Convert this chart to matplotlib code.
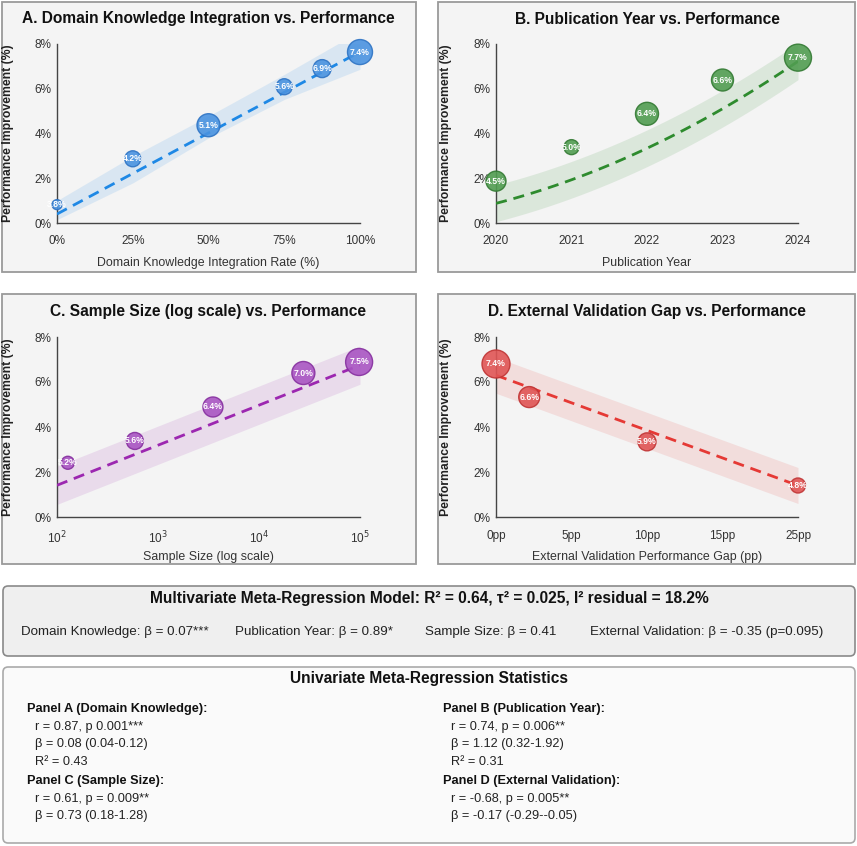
import matplotlib
matplotlib.use("Agg")
import matplotlib.pyplot as plt
import numpy as np
from matplotlib.patches import FancyBboxPatch, Rectangle

plt.rcParams['font.family'] = ['Liberation Sans', 'DejaVu Sans']

W, H = 857, 846

# ---------------- data ----------------
# Panel A
a_x = [0, 25, 50, 75, 87.5, 100]
a_y = [0.82, 2.87, 4.37, 6.09, 6.90, 7.64]
a_lbl = ["3.8%", "4.2%", "5.1%", "5.6%", "6.9%", "7.4%"]
a_d = [10, 16, 23, 16, 18, 25]
a_trend_x = [0, 100]
a_trend_y = [0.40, 7.65]
a_band_x = [0, 25, 50, 75, 100]
a_band_lo = [0.15, 1.79, 3.80, 5.52, 6.87]
a_band_hi = [1.00, 2.99, 4.78, 6.64, 8.58]
a_ticks = [0, 25, 50, 75, 100]
a_ticklbl = ["0%", "25%", "50%", "75%", "100%"]

# Panel B
b_x = [2020, 2021, 2022, 2023, 2024]
b_y = [1.87, 3.39, 4.88, 6.39, 7.39]
b_lbl = ["4.5%", "5.0%", "6.4%", "6.6%", "7.7%"]
b_d = [20, 15, 23, 22, 27]
b_trend_x = [2020, 2021, 2022, 2023, 2024]
b_trend_y = [0.87, 1.94, 3.36, 5.07, 7.24]
b_band_half = 0.82

# Panel C
c_x = [128, 590, 3500, 27500, 98000]
c_y = [2.41, 3.38, 4.89, 6.40, 6.89]
c_lbl = ["5.2%", "5.6%", "6.4%", "7.0%", "7.5%"]
c_d = [13, 17, 20, 23, 27]
c_trend_x = [100, 100000]
c_trend_y = [1.41, 6.75]
c_band_half = 0.85
c_ticks = [100, 1000, 10000, 100000]
c_ticklbl = ["10$^2$", "10$^3$", "10$^4$", "10$^5$"]

# Panel D
d_x = [0, 2.2, 10, 20]
d_y = [6.80, 5.33, 3.34, 1.40]
d_lbl = ["7.4%", "6.6%", "5.9%", "4.8%"]
d_d = [28, 21, 18, 15]
d_trend_x = [0, 20]
d_trend_y = [6.30, 1.40]
d_band_half = 0.80
d_ticks = [0, 5, 10, 15, 20]
d_ticklbl = ["0pp", "5pp", "10pp", "15pp", "25pp"]

y_ticks = [0, 2, 4, 6, 8]
y_ticklbl = ["0%", "2%", "4%", "6%", "8%"]

titles = ["A. Domain Knowledge Integration vs. Performance",
          "B. Publication Year vs. Performance",
          "C. Sample Size (log scale) vs. Performance",
          "D. External Validation Gap vs. Performance"]
xlabels = ["Domain Knowledge Integration Rate (%)", "Publication Year",
           "Sample Size (log scale)", "External Validation Performance Gap (pp)"]
ylabel = "Performance Improvement (%)"

multi_title = "Multivariate Meta-Regression Model: R² = 0.64, τ² = 0.025, I² residual = 18.2%"
multi_items = ["Domain Knowledge: β = 0.07***", "Publication Year: β = 0.89*",
               "Sample Size: β = 0.41", "External Validation: β = -0.35 (p=0.095)"]

uni_title = "Univariate Meta-Regression Statistics"
uni_blocks = [
    ("Panel A (Domain Knowledge):", ["r = 0.87, p 0.001***", "β = 0.08 (0.04-0.12)", "R² = 0.43"]),
    ("Panel B (Publication Year):", ["r = 0.74, p = 0.006**", "β = 1.12 (0.32-1.92)", "R² = 0.31"]),
    ("Panel C (Sample Size):", ["r = 0.61, p = 0.009**", "β = 0.73 (0.18-1.28)"]),
    ("Panel D (External Validation):", ["r = -0.68, p = 0.005**", "β = -0.17 (-0.29--0.05)"]),
]

colors = {
    'A': dict(fill='#4a93e0', edge='#2f74c4', line='#1e88e5'),
    'B': dict(fill='#519d51', edge='#337a33', line='#2e8b2e'),
    'C': dict(fill='#a955c2', edge='#86309f', line='#9c27b0'),
    'D': dict(fill='#e05555', edge='#c03535', line='#e53935'),
}

# ---------------- figure ----------------
fig = plt.figure(figsize=(W / 100, H / 100), dpi=100)
fig.patch.set_facecolor('white')

def fx(x):
    return x / W

def fy(y):
    return 1 - y / H

def add_box(x0, y0, x1, y1, face, edge, lw=1.2, rounded=False):
    if rounded:
        p = FancyBboxPatch((fx(x0), fy(y1)), fx(x1) - fx(x0), fy(y0) - fy(y1),
                           boxstyle="round,pad=0,rounding_size=0.006",
                           transform=fig.transFigure, facecolor=face, edgecolor=edge,
                           linewidth=lw, zorder=-5)
    else:
        p = Rectangle((fx(x0), fy(y1)), fx(x1) - fx(x0), fy(y0) - fy(y1),
                      transform=fig.transFigure, facecolor=face, edgecolor=edge,
                      linewidth=lw, zorder=-5)
    fig.patches.append(p)

# panel boxes
panel_boxes = [(2, 2, 416, 272), (438, 2, 855, 272), (2, 294, 416, 564), (438, 294, 855, 564)]
for b in panel_boxes:
    add_box(*b, face='#f4f4f4', edge='#9a9a9a', lw=1.3)

# axes rectangles in px: (left, top, right, bottom)
axes_px = [(57, 44, 360, 223), (496, 44, 798, 223), (57, 337, 360, 517), (496, 337, 798, 517)]
title_pos = [(208, 19), (647, 19), (208, 311), (647, 311)]

axs = []
for (l, t, r, b) in axes_px:
    ax = fig.add_axes([fx(l), fy(b), fx(r) - fx(l), fy(t) - fy(b)])
    ax.set_zorder(2)
    ax.set_facecolor('none')
    for s in ['top', 'right']:
        ax.spines[s].set_visible(False)
    for s in ['left', 'bottom']:
        ax.spines[s].set_color('#444444')
        ax.spines[s].set_linewidth(1.0)
    ax.set_ylim(0, 8)
    ax.set_yticks(y_ticks)
    ax.set_yticklabels(y_ticklbl)
    ax.tick_params(axis='both', length=0, labelsize=8.5, colors='#333333')
    ax.tick_params(axis='y', pad=4)
    ax.tick_params(axis='x', pad=9)
    ax.set_ylabel(ylabel, fontsize=8.8, fontweight='bold', color='#222222')
    axs.append(ax)

DASH = (0, (4.0, 2.5))

def scatter_panel(ax, x, y, d, lbl, c):
    s = [(di * 0.72) ** 2 for di in d]
    ax.scatter(x, y, s=s, c=c['fill'], edgecolors=c['edge'], linewidths=1.0,
               alpha=0.9, zorder=4, clip_on=False)
    for xi, yi, t in zip(x, y, lbl):
        ax.text(xi, yi, t, color='white', fontsize=6.2, fontweight='bold',
                ha='center', va='center', zorder=5, clip_on=False)

# Panel A
ax = axs[0]
c = colors['A']
ax.set_xlim(0, 100)
ax.fill_between(a_band_x, a_band_lo, a_band_hi, color=c['line'], alpha=0.12, lw=0, zorder=1)
ax.plot(a_trend_x, a_trend_y, ls=DASH, color=c['line'], lw=2.0, zorder=3)
scatter_panel(ax, a_x, a_y, a_d, a_lbl, c)
ax.set_xticks(a_ticks)
ax.set_xticklabels(a_ticklbl)

# Panel B
ax = axs[1]
c = colors['B']
ax.set_xlim(2020, 2024)
coef = np.polyfit(b_trend_x, b_trend_y, 2)
xs = np.linspace(2020, 2024, 100)
ys = np.polyval(coef, xs)
ax.fill_between(xs, ys - b_band_half, ys + b_band_half, color=c['line'], alpha=0.12, lw=0, zorder=1)
ax.plot(xs, ys, ls=DASH, color=c['line'], lw=2.0, zorder=3)
scatter_panel(ax, b_x, b_y, b_d, b_lbl, c)
ax.set_xticks(b_x)
ax.set_xticklabels([str(v) for v in b_x])

# Panel C
ax = axs[2]
c = colors['C']
ax.set_xscale('log')
ax.set_xlim(100, 100000)
ax.fill_between(c_trend_x, np.array(c_trend_y) - c_band_half, np.array(c_trend_y) + c_band_half,
                color=c['line'], alpha=0.12, lw=0, zorder=1)
ax.plot(c_trend_x, c_trend_y, ls=DASH, color=c['line'], lw=2.0, zorder=3)
scatter_panel(ax, c_x, c_y, c_d, c_lbl, c)
ax.set_xticks(c_ticks)
ax.set_xticklabels(c_ticklbl)
ax.minorticks_off()

# Panel D
ax = axs[3]
c = colors['D']
ax.set_xlim(0, 20)
ax.fill_between(d_trend_x, np.array(d_trend_y) - d_band_half, np.array(d_trend_y) + d_band_half,
                color=c['line'], alpha=0.12, lw=0, zorder=1)
ax.plot(d_trend_x, d_trend_y, ls=DASH, color=c['line'], lw=2.0, zorder=3)
scatter_panel(ax, d_x, d_y, d_d, d_lbl, c)
ax.set_xticks(d_ticks)
ax.set_xticklabels(d_ticklbl)

for i, ax in enumerate(axs):
    l, t, r, b = axes_px[i]
    ax.set_xlabel(xlabels[i], fontsize=8.9, color='#333333')
    ax.xaxis.set_label_coords(0.5, -(34) / (b - t), transform=ax.transAxes)
    lx = 14 if i % 2 == 0 else 452
    ax.yaxis.set_label_coords((lx - l) / (r - l), 0.5)
    tx, ty = title_pos[i]
    fig.text(fx(tx), fy(ty), titles[i], ha='center', va='center', fontsize=11.2,
             fontweight='bold', color='#111111')

# ---------------- multivariate box ----------------
fam = ['Liberation Sans', 'DejaVu Sans']
add_box(3, 586, 855, 656, face='#efefef', edge='#8a8a8a', lw=1.2, rounded=True)
fig.text(fx(429), fy(599), multi_title, ha='center', va='center', fontsize=11.2,
         fontweight='bold', family=fam, color='#111111')
item_x = [21, 235, 425, 590]
for xi, t in zip(item_x, multi_items):
    fig.text(fx(xi), fy(632), t, ha='left', va='center', fontsize=9.6, family=fam, color='#222222')

# ---------------- univariate box ----------------
add_box(3, 667, 855, 843, face='#fafafa', edge='#aaaaaa', lw=1.2, rounded=True)
fig.text(fx(429), fy(678), uni_title, ha='center', va='center', fontsize=11.2,
         fontweight='bold', family=fam, color='#111111')
block_pos = [(27, 709), (443, 709), (27, 781), (443, 781)]
for (hx, hy), (head, lines) in zip(block_pos, uni_blocks):
    fig.text(fx(hx), fy(hy), head, ha='left', va='center', fontsize=9.2,
             fontweight='bold', family=fam, color='#111111')
    for k, ln in enumerate(lines):
        fig.text(fx(hx + 8), fy(hy + 18 + 17.3 * k), ln, ha='left', va='center',
                 fontsize=9.2, family=fam, color='#222222')

fig.savefig('out.png', dpi=100, facecolor='white')
